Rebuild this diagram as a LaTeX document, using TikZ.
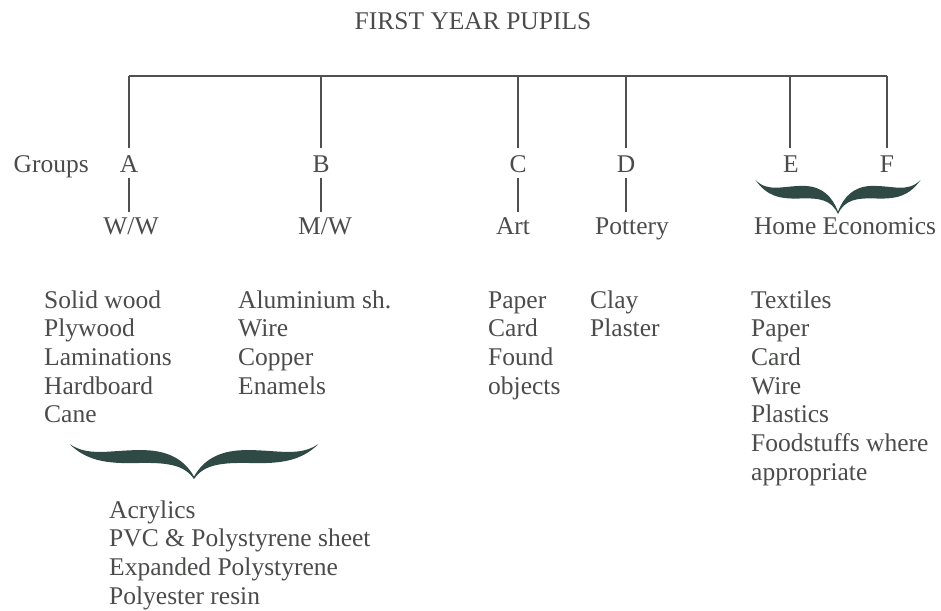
\documentclass[tikz,border=0pt]{standalone}
\usepackage{fontspec}
\setmainfont{Liberation Serif}
\definecolor{textgray}{HTML}{4A4C4A}
\definecolor{linegray}{HTML}{505050}
\definecolor{bracecol}{HTML}{2F4A44}
\begin{document}
\begin{tikzpicture}[x=1pt,y=-1pt,
  txt/.style={font=\fontsize{25.5}{28}\selectfont, text=textgray, inner sep=0pt},
  grp/.style={txt, anchor=base, text height=24pt, text depth=6pt},
  sub/.style={txt, anchor=base, text height=22pt, text depth=0pt},
  item/.style={txt, anchor=base west},
  hline/.style={draw=linegray, line width=1.8pt},
  vline/.style={draw=linegray, line width=1.4pt},
  curly/.pic={
    \fill[bracecol] (-1,-1) .. controls (-0.84,-0.6) and (-0.66,-0.84) .. (-0.40,-0.82)
      .. controls (-0.19,-0.80) and (-0.07,-0.5) .. (0,-0.04)
      .. controls (0.07,-0.5) and (0.19,-0.80) .. (0.40,-0.82)
      .. controls (0.66,-0.84) and (0.84,-0.6) .. (1,-1)
      .. controls (0.86,-0.5) and (0.7,-0.42) .. (0.46,-0.44)
      .. controls (0.22,-0.46) and (0.08,-0.4) .. (0,0.03)
      .. controls (-0.08,-0.4) and (-0.22,-0.46) .. (-0.46,-0.44)
      .. controls (-0.7,-0.42) and (-0.86,-0.5) .. (-1,-1) -- cycle;
  }]
\fill[white] (0,0) rectangle (941,610);
\useasboundingbox (0,0) rectangle (941,610);

% title
\node[txt, anchor=base] (title) at (473,30) {FIRST YEAR PUPILS};

% top bar coordinates
\coordinate (tA) at (129,76);
\coordinate (tB) at (321,76);
\coordinate (tC) at (518,76);
\coordinate (tD) at (626,76);
\coordinate (tE) at (790,76);
\coordinate (tF) at (887,76);

% groups row
\node[txt, anchor=base east] (groups) at (89,172) {Groups};
\node[grp] (A) at (129,172) {A};
\node[grp] (B) at (321,172) {B};
\node[grp] (C) at (518,172) {C};
\node[grp] (D) at (626,172) {D};
\node[grp] (E) at (791,172) {E};
\node[grp] (F) at (887,172) {F};

% subject row
\node[sub] (WW) at (131,234) {W/W};
\node[sub] (MW) at (325,234) {M/W};
\node[sub] (Art) at (513,234) {Art};
\node[sub] (Pot) at (632,234) {Pottery};
\node[sub] (HE) at (845,234) {Home Economics};

% connectors
\draw[hline] (tA) -- (tF);
\foreach \g in {A,B,C,D,E,F}
  \draw[vline] (t\g) -- (t\g |- \g.north);
\draw[vline] (A.south -| tA) -- (tA |- WW.north);
\draw[vline] (B.south -| tB) -- (tB |- MW.north);
\draw[vline] (C.south -| tC) -- (tC |- Art.north);
\draw[vline] (D.south -| tD) -- (tD |- Pot.north);

% braces
\pic[xscale=82.5, yscale=33] at (838,213) {curly};
\pic[xscale=124.5, yscale=34] at (194,478) {curly};

% lists
\foreach \t [count=\i] in {Solid wood,Plywood,Laminations,Hardboard,Cane}
  \node[item] (ww\i) at (44,{308+28.7*(\i-1)}) {\t};
\foreach \t [count=\i] in {Aluminium sh.,Wire,Copper,Enamels}
  \node[item] (mw\i) at (238,{308+28.7*(\i-1)}) {\t};
\foreach \t [count=\i] in {Paper,Card,Found,objects}
  \node[item] (art\i) at (488,{308+28.7*(\i-1)}) {\t};
\foreach \t [count=\i] in {Clay,Plaster}
  \node[item] (pot\i) at (590,{308+28.7*(\i-1)}) {\t};
\foreach \t [count=\i] in {Textiles,Paper,Card,Wire,Plastics,Foodstuffs where,appropriate}
  \node[item] (he\i) at (751,{308+28.7*(\i-1)}) {\t};
\foreach \t [count=\i] in {Acrylics,PVC \& Polystyrene sheet,Expanded Polystyrene,Polyester resin}
  \node[item] (pl\i) at (109,{518+28.7*(\i-1)}) {\t};
\end{tikzpicture}
\end{document}
